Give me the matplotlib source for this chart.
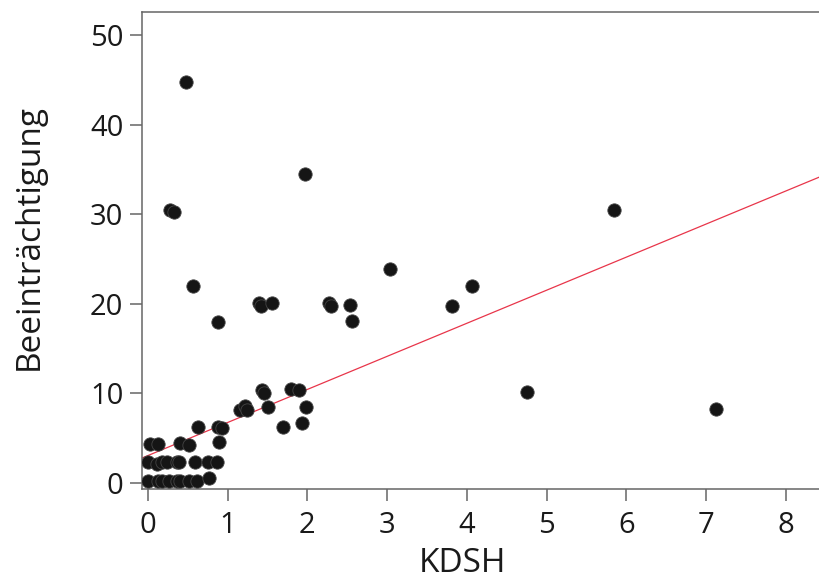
import numpy as np
import matplotlib
matplotlib.use('Agg')
import matplotlib.pyplot as plt

plt.rcParams['font.family'] = ['Open Sans', 'DejaVu Sans']

# KDSH score vs. impairment (Beeinträchtigung), one point per subject
kdsh = [0.00, 0.12, 0.17, 0.26, 0.37, 0.40, 0.51, 0.61, 0.77,
        0.00, 0.11, 0.17, 0.235, 0.37, 0.39, 0.59, 0.75, 0.86,
        0.02, 0.13, 0.40, 0.52, 0.89,
        0.63, 0.88, 0.93,
        1.15, 1.22, 1.24, 1.50, 1.98, 1.69, 1.93,
        1.43, 1.46, 1.79, 1.90,
        0.48, 0.28, 0.33, 0.56, 0.875, 1.39, 1.42, 1.55, 1.97,
        2.27, 2.30, 2.53, 2.56, 3.03, 3.81, 4.07, 4.75, 5.85, 7.13]
beeintr = [0.2, 0.2, 0.2, 0.2, 0.2, 0.2, 0.2, 0.2, 0.6,
           2.3, 2.1, 2.3, 2.3, 2.3, 2.3, 2.3, 2.3, 2.3,
           4.3, 4.3, 4.5, 4.2, 4.6,
           6.3, 6.3, 6.1,
           8.2, 8.6, 8.2, 8.5, 8.5, 6.2, 6.7,
           10.4, 10.1, 10.5, 10.4,
           44.8, 30.5, 30.2, 22.0, 18.0, 20.1, 19.8, 20.1, 34.5,
           20.1, 19.8, 19.9, 18.1, 23.9, 19.8, 22.0, 10.2, 30.5, 8.3]

# regression line
fit_intercept = 3.07
fit_slope = 3.69

x_ticks = [0, 1, 2, 3, 4, 5, 6, 7, 8]
y_ticks = [0, 10, 20, 30, 40, 50]

fig = plt.figure(figsize=(8.2, 5.81), dpi=100)
ax = fig.add_axes([0.1732, 0.1583, 0.8268, 0.821])

ax.scatter(kdsh, beeintr, s=92, color='#151515', edgecolors='#444444',
           linewidths=0.6, zorder=3)

x_line = np.array([-0.1, 8.6])
ax.plot(x_line, fit_intercept + fit_slope * x_line, color='#e8354a',
        linewidth=0.9, zorder=2)

ax.set_xlim(-0.075, 8.43)
ax.set_ylim(-0.67, 52.57)
ax.set_xticks(x_ticks)
ax.set_yticks(y_ticks)

for side in ['top', 'left', 'bottom', 'right']:
    ax.spines[side].set_color('#666666')
    ax.spines[side].set_linewidth(1.1)
ax.spines['right'].set_visible(False)

ax.tick_params(axis='both', direction='out', length=8.5, width=1.1,
               color='#666666', labelsize=21, labelcolor='#1a1a1a')
ax.tick_params(axis='x', pad=7)
ax.tick_params(axis='y', pad=5)

ax.set_xlabel('KDSH', fontsize=24, color='#1a1a1a')
ax.set_ylabel('Beeinträchtigung', fontsize=24, color='#1a1a1a')
ax.xaxis.set_label_coords(0.472, -0.122)
ax.yaxis.set_label_coords(-0.142, 0.528)

fig.savefig('out.png', dpi=100)
